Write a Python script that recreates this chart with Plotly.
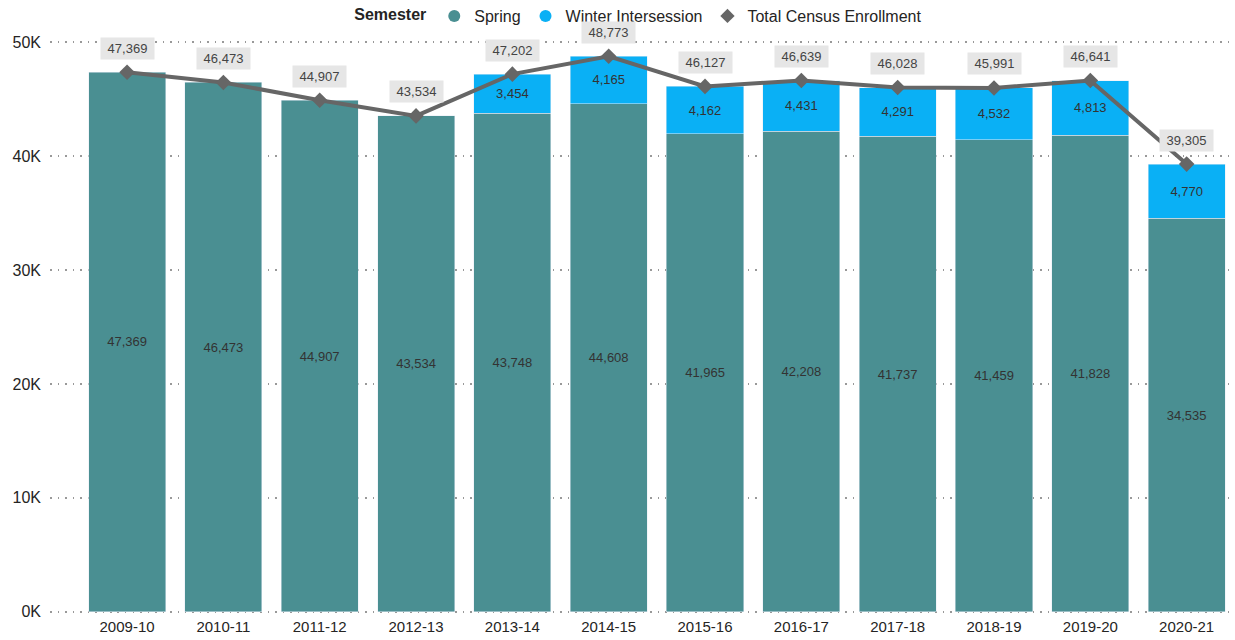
import plotly.graph_objects as go

years = ["2009-10", "2010-11", "2011-12", "2012-13", "2013-14", "2014-15",
         "2015-16", "2016-17", "2017-18", "2018-19", "2019-20", "2020-21"]
spring = [47369, 46473, 44907, 43534, 43748, 44608, 41965, 42208, 41737, 41459, 41828, 34535]
winter = [None, None, None, None, 3454, 4165, 4162, 4431, 4291, 4532, 4813, 4770]
total = [47369, 46473, 44907, 43534, 47202, 48773, 46127, 46639, 46028, 45991, 46641, 39305]

SPRING_C = "#4A8F92"
WINTER_C = "#0AB0F5"
LINE_C = "#666666"
FONT = "Liberation Sans, Arial, sans-serif"

fig = go.Figure()
fig.add_trace(go.Bar(
    x=years, y=spring, name="Spring", marker_color=SPRING_C, showlegend=False,
    texttemplate="%{y:,}", textposition="inside", insidetextanchor="middle",
    textangle=0, textfont=dict(color="#333333", size=13, family=FONT),
    constraintext="none"))
fig.add_trace(go.Bar(
    x=years, y=winter, name="Winter Intersession", marker_color=WINTER_C, showlegend=False,
    texttemplate="%{y:,}", textposition="inside", insidetextanchor="middle",
    textangle=0, textfont=dict(color="#333333", size=13, family=FONT),
    constraintext="none"))
fig.add_trace(go.Scatter(
    x=years, y=total, mode="lines+markers", name="Total Census Enrollment",
    line=dict(color=LINE_C, width=4), marker=dict(symbol="diamond", size=12, color=LINE_C),
    showlegend=False, cliponaxis=False))

# legend-only traces
fig.add_trace(go.Scatter(x=[None], y=[None], mode="markers", name="Spring",
                         marker=dict(symbol="circle", size=12, color=SPRING_C)))
fig.add_trace(go.Scatter(x=[None], y=[None], mode="markers", name="Winter Intersession",
                         marker=dict(symbol="circle", size=12, color=WINTER_C)))
fig.add_trace(go.Scatter(x=[None], y=[None], mode="markers", name="Total Census Enrollment",
                         marker=dict(symbol="diamond", size=11, color=LINE_C)))

for yr, t in zip(years, total):
    fig.add_annotation(x=yr, y=t, text=f" {t:,} ", showarrow=False, yshift=24,
                       bgcolor="#E6E6E6", borderpad=3,
                       font=dict(size=13, color="#444444", family=FONT))

fig.update_layout(
    barmode="stack", bargap=0.2,
    width=1235, height=640,
    margin=dict(l=50, r=5, t=40, b=26, autoexpand=False),
    plot_bgcolor="white", paper_bgcolor="white",
    font=dict(family=FONT, color="#252423"),
    legend=dict(orientation="h", x=0.518, xanchor="center", xref="container",
                y=0.975, yanchor="middle", yref="container",
                traceorder="normal",
                title=dict(text="<b>Semester</b>", font=dict(size=16, color="#252423")),
                font=dict(size=16, color="#252423"), itemwidth=30, tracegroupgap=0),
    xaxis=dict(type="category", range=[-0.8, 11.45], showgrid=False, showline=False, ticks="",
               ticklabelstandoff=2, tickfont=dict(size=15, color="#252423")),
    yaxis=dict(range=[-200, 50200], tickvals=[0, 10000, 20000, 30000, 40000, 50000],
               ticktext=["0K", "10K", "20K", "30K", "40K", "50K"],
               showgrid=True, gridcolor="#999999", griddash="1.5px,6px", gridwidth=1.5,
               zeroline=False, showline=False, ticks="", ticklabelstandoff=8,
               tickfont=dict(size=16, color="#252423")),
)

fig.write_html("out.html", config={"displayModeBar": False},
               post_script="document.body.style.margin='0';")
